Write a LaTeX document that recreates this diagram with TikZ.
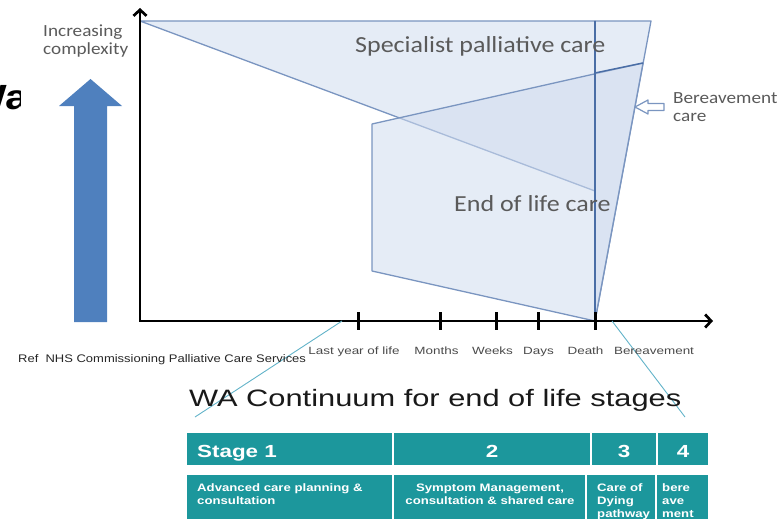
\documentclass[tikz,border=0pt]{standalone}
\usepackage{fontspec}
\setmainfont{Liberation Sans}
\newfontfamily\calfont{Carlito}
\usetikzlibrary{arrows.meta}
\definecolor{shapefill}{HTML}{D0DCEF}
\definecolor{shapeedge}{HTML}{7A95C0}
\definecolor{darkedge}{HTML}{4A6EA6}
\definecolor{bigblue}{HTML}{4F80BE}
\definecolor{tealcell}{HTML}{1C979C}
\definecolor{tealline}{HTML}{62B3C9}
\definecolor{labgray}{HTML}{5A5A5A}
\definecolor{axgray}{HTML}{4A4A4A}
\newcommand{\sxa}[1]{\scalebox{1.13}[1]{#1}}
\newcommand{\sxb}[1]{\scalebox{1.28}[1]{#1}}
\newcommand{\sxc}[1]{\scalebox{1.22}[1]{#1}}
\begin{document}
\begin{tikzpicture}[x=1pt,y=-1pt,
  area/.style={fill=shapefill,fill opacity=0.55,draw=shapeedge,line width=1.3pt,line join=round},
  darkline/.style={draw=darkedge,line width=2.2pt},
  axisline/.style={draw=black,line width=2.7pt},
  tickmark/.style={draw=black,line width=3pt},
  calbig/.style={inner sep=0pt,text=labgray,font=\calfont\fontsize{23}{23}\selectfont},
  calsmall/.style={inner sep=0pt,text=labgray,font=\calfont\fontsize{17}{17}\selectfont},
  axlabel/.style={inner sep=0pt,anchor=base,text=axgray,font=\fontsize{10.5}{10.5}\selectfont},
  cell/.style={fill=tealcell},
  headtext/.style={inner sep=0pt,text=white,font=\bfseries\fontsize{17.5}{17.5}\selectfont},
  celltext/.style={inner sep=0pt,text=white,font=\bfseries\fontsize{10.8}{10.8}\selectfont},
  guide/.style={draw=tealline,line width=0.9pt}]
\useasboundingbox (0,0) rectangle (782,519);
% fragment of a title cut by the picture edge
\begin{scope}
\clip (0,0) rectangle (20,519);
\node[inner sep=0pt,anchor=base west,font=\bfseries\fontsize{35}{35}\selectfont] (wa) at (-33,110) {\scalebox{1.2}[1]{Wa}};
\end{scope}
% big blue arrow
\fill[bigblue] (74,322) -- (74,106) -- (59,106) -- (90.5,79) -- (122,106) -- (107,106) -- (107,322) -- cycle;
% shapes
\coordinate (sA) at (140,21);
\coordinate (sB) at (595,21);
\coordinate (sC) at (595,191);
\coordinate (eA) at (372,124);
\coordinate (eB) at (643,63);
\coordinate (eC) at (595,321);
\coordinate (eD) at (372,271);
\coordinate (bA) at (651,21);
\coordinate (eM) at (595,73);
\path[area] (sA) -- (sB) -- (sC) -- cycle;
\path[area] (eA) -- (eB) -- (eC) -- (eD) -- cycle;
\path[area] (sB) -- (bA) -- (eC) -- cycle;
\draw[darkline] (sB) -- (eC);
\draw[darkline,line width=1.5pt] (eM) -- (eB);
% hollow arrow
\filldraw[draw=shapeedge,fill=white,line width=1.2pt,line join=round] (635,107) -- (648,100) -- (648,103.5) -- (664,103.5) -- (664,110.5) -- (648,110.5) -- (648,114) -- cycle;
% axes
\coordinate (ytop) at (140,8);
\coordinate (orig) at (140,321);
\coordinate (xend) at (713,321);
\draw[axisline,{Straight Barb[length=6pt,width=13pt]}-{Straight Barb[length=6pt,width=13pt]}] (ytop) -- (orig) -- (xend);
\foreach \tx in {358.7,440,496,538.7,595} \draw[tickmark] (\tx,312) -- (\tx,330);
% guide lines
\coordinate (gl1) at (342,321);
\coordinate (gl2) at (195,417);
\coordinate (gr1) at (612,321);
\coordinate (gr2) at (685,417);
\draw[guide] (gl1) -- (gl2);
\draw[guide] (gr1) -- (gr2);
% texts top
\node[calbig,anchor=base west] (spc) at (355,53) {\sxa{Specialist palliative care}};
\node[calbig,anchor=base west] (eol) at (454,211) {\sxa{End of life care}};
\node[calsmall,anchor=base west] (inc1) at (43,37) {\sxa{Increasing}};
\node[calsmall,anchor=base west] (inc2) at (43,55) {\sxa{complexity}};
\node[calsmall,anchor=base west] (ber1) at (673,103) {\sxa{Bereavement}};
\node[calsmall,anchor=base west] (ber2) at (673,121.5) {\sxa{care}};
% axis labels
\node[axlabel] (l1) at (354,354) {\sxb{Last year of life}};
\node[axlabel] (l2) at (436.5,354) {\sxb{Months}};
\node[axlabel] (l3) at (492.5,354) {\sxb{Weeks}};
\node[axlabel] (l4) at (538.5,354) {\sxb{Days}};
\node[axlabel] (l5) at (585.5,354) {\sxb{Death}};
\node[axlabel] (l6) at (654,354) {\sxb{Bereavement}};
\node[inner sep=0pt,anchor=base west,text=black!85,font=\fontsize{11}{11}\selectfont] (ref) at (18,362) {\scalebox{1.18}[1]{Ref\ \ NHS Commissioning Palliative Care Services}};
% title
\node[inner sep=0pt,anchor=base west,text=black!90,font=\fontsize{23.7}{23.7}\selectfont] (title) at (189,406) {\scalebox{1.3}[1]{WA Continuum for end of life stages}};
% table
\path[cell] (187,433) rectangle (392,465);
\path[cell] (394,433) rectangle (590,465);
\path[cell] (592,433) rectangle (656,465);
\path[cell] (658,433) rectangle (708,465);
\path[cell] (187,475) rectangle (392,520);
\path[cell] (394,475) rectangle (585,520);
\path[cell] (587,475) rectangle (655,520);
\path[cell] (657,475) rectangle (708,520);
\node[headtext,anchor=base west] (h1) at (197,457) {\sxb{Stage 1}};
\node[headtext,anchor=base] (h2) at (492,457) {\sxb{2}};
\node[headtext,anchor=base] (h3) at (624,457) {\sxb{3}};
\node[headtext,anchor=base] (h4) at (683,457) {\sxb{4}};
\node[celltext,anchor=base west] (c1a) at (197,491) {\sxc{Advanced care planning \&}};
\node[celltext,anchor=base west] (c1b) at (197,504) {\sxc{consultation}};
\node[celltext,anchor=base] (c2a) at (490,491) {\sxc{Symptom Management,}};
\node[celltext,anchor=base] (c2b) at (490,504) {\sxc{consultation \& shared care}};
\node[celltext,anchor=base west] (c3a) at (597,491) {\sxc{Care of}};
\node[celltext,anchor=base west] (c3b) at (597,504) {\sxc{Dying}};
\node[celltext,anchor=base west] (c3c) at (597,517) {\sxc{pathway}};
\node[celltext,anchor=base west] (c4a) at (662,491) {\sxc{bere}};
\node[celltext,anchor=base west] (c4b) at (662,504) {\sxc{ave}};
\node[celltext,anchor=base west] (c4c) at (662,517) {\sxc{ment}};
\end{tikzpicture}
\end{document}
